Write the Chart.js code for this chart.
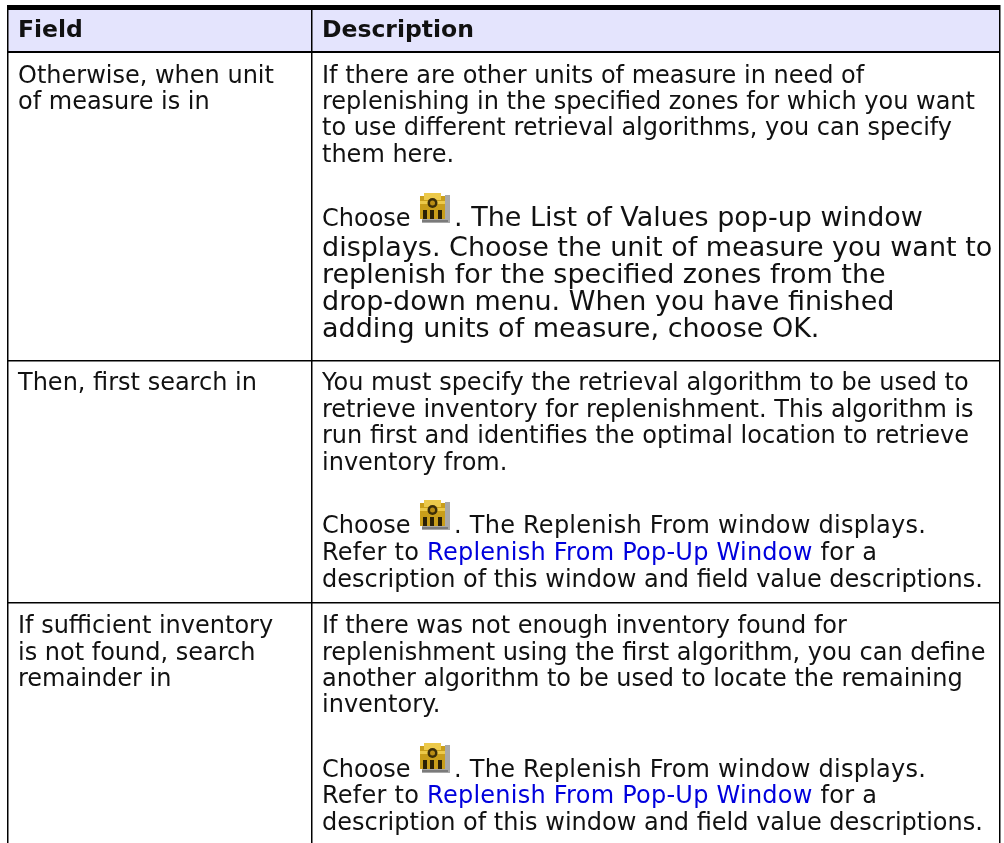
<!DOCTYPE html>
<html>
<head>
<meta charset="utf-8">
<title>Replenishment fields</title>
<script src="https://cdn.jsdelivr.net/npm/chart.js@4/dist/chart.umd.min.js"></script>
<style>
    html, body { margin: 0; padding: 0; background: #fff; }
    canvas { display: block; }
</style>
</head>
<body>
<canvas id="tableChart" width="1004" height="843"></canvas>
<script>
// --- TEXT OF THE TABLE ---
const headers = ['Field', 'Description'];
const fieldLines = [
    ['Otherwise, when unit', 'of measure is in'],
    ['Then, first search in'],
    ['If sufficient inventory', 'is not found, search', 'remainder in']
];
const descLines = [
    ['If there are other units of measure in need of', 'replenishing in the specified zones for which you want', 'to use different retrieval algorithms, you can specify', 'them here.'],
    ['You must specify the retrieval algorithm to be used to', 'retrieve inventory for replenishment. This algorithm is', 'run first and identifies the optimal location to retrieve', 'inventory from.'],
    ['If there was not enough inventory found for', 'replenishment using the first algorithm, you can define', 'another algorithm to be used to locate the remaining', 'inventory.']
];
const chooseWord = 'Choose';
const chooseRest = ['. The List of Values pop-up window', '. The Replenish From window displays.', '. The Replenish From window displays.'];
const bigLines = ['displays. Choose the unit of measure you want to', 'replenish for the specified zones from the', 'drop-down menu. When you have finished', 'adding units of measure, choose OK.'];
const referBefore = 'Refer to ';
const referLink = 'Replenish From Pop-Up Window';
const referAfter = ' for a';
const referLast = 'description of this window and field value descriptions.';

// --- SCALE VALUES (one unit = one pixel of the reference) ---
const columnEdges = [8, 312, 1000];
const rowEdges = [7.5, 52, 361, 603];
const headerBaseline = 37;
const fieldBaselines = [[83, 109], [390], [633, 660, 686]];
const descBaselines = [[83, 109, 135, 162], [390, 417, 443, 470], [633, 660, 686, 712]];
const chooseBaselines = [226, 533, 777];
const bigBaselines = [256, 283, 310, 337];
const referBaselines = [[560, 587], [803, 830]];
const iconCenters = [[435, 208], [435, 515], [435, 758]];

const fontName = '"DejaVu Sans", Verdana, sans-serif';
const textColor = '#111111';
const linkColor = '#0000dd';

// small gold icon used as the point style
function makeIcon() {
    const icon = document.createElement('canvas');
    icon.width = 30;
    icon.height = 30;
    const c = icon.getContext('2d');
    c.fillStyle = '#a8a8a8';
    c.fillRect(2, 25, 28, 5);
    c.fillRect(25, 2, 5, 28);
    c.fillStyle = '#7a7a7a';
    c.fillRect(2, 27, 26, 2);
    c.fillStyle = '#c99e1a';
    c.fillRect(0, 3, 25, 23);
    c.fillStyle = '#ecc94a';
    c.fillRect(4, 0, 17, 7);
    c.fillRect(0, 8, 25, 3);
    c.fillStyle = '#3a2c08';
    c.beginPath();
    c.arc(12.5, 10, 5, 0, Math.PI * 2);
    c.fill();
    c.fillStyle = '#b98c14';
    c.beginPath();
    c.arc(12.5, 10, 2.5, 0, Math.PI * 2);
    c.fill();
    c.fillStyle = '#2a2005';
    c.fillRect(3, 17, 4, 9);
    c.fillRect(10, 17, 4, 9);
    c.fillRect(18, 17, 4, 9);
    return icon;
}

function drawLines(ctx, scales, x, baselines, lines) {
    lines.forEach(function(line, i) {
        ctx.fillText(line, scales.x.getPixelForValue(x), scales.y.getPixelForValue(baselines[i]));
    });
}

// writes the cell text through the chart's own scales
const tableText = {
    id: 'tableText',
    afterDraw: function(chart) {
        const ctx = chart.ctx;
        const scales = chart.scales;
        const fieldX = columnEdges[0] + 10;
        const descX = columnEdges[1] + 10;
        const iconEndX = 454;
        const normalFont = '24px ' + fontName;
        const bigFont = '27px ' + fontName;

        ctx.save();
        ctx.textBaseline = 'alphabetic';
        ctx.textAlign = 'left';
        ctx.fillStyle = textColor;

        ctx.font = 'bold 23.5px ' + fontName;
        drawLines(ctx, scales, fieldX, [headerBaseline], [headers[0]]);
        drawLines(ctx, scales, descX, [headerBaseline], [headers[1]]);

        ctx.font = normalFont;
        for (let i = 0; i < fieldLines.length; i++) {
            drawLines(ctx, scales, fieldX, fieldBaselines[i], fieldLines[i]);
            drawLines(ctx, scales, descX, descBaselines[i], descLines[i]);
            drawLines(ctx, scales, descX, [chooseBaselines[i]], [chooseWord]);
        }

        // first row has the larger paragraph
        ctx.font = bigFont;
        drawLines(ctx, scales, iconEndX, [chooseBaselines[0]], [chooseRest[0]]);
        drawLines(ctx, scales, descX, bigBaselines, bigLines);

        ctx.font = normalFont;
        for (let i = 1; i < chooseRest.length; i++) {
            // these lines run a little wider in the reference
            ctx.letterSpacing = '0.25px';
            drawLines(ctx, scales, iconEndX, [chooseBaselines[i]], [chooseRest[i]]);
            const y = referBaselines[i - 1];
            const beforeWidth = ctx.measureText(referBefore).width;
            const linkWidth = ctx.measureText(referLink).width;
            drawLines(ctx, scales, descX, [y[0]], [referBefore]);
            ctx.fillStyle = linkColor;
            drawLines(ctx, scales, descX + beforeWidth, [y[0]], [referLink]);
            ctx.fillStyle = textColor;
            drawLines(ctx, scales, descX + beforeWidth + linkWidth, [y[0]], [referAfter]);
            ctx.letterSpacing = '0px';
            drawLines(ctx, scales, descX, [y[1]], [referLast]);
        }
        ctx.restore();
    }
};

const locationOfChart = document.getElementById('tableChart');
new Chart(locationOfChart, {
    type: 'scatter',
    data: {
        datasets: [{
            // header shading, filled up to the top of the table
            type: 'line',
            data: [{ x: columnEdges[0], y: rowEdges[1] }, { x: columnEdges[2], y: rowEdges[1] }],
            borderWidth: 0,
            pointRadius: 0,
            backgroundColor: '#e4e4fd',
            fill: 'end'
        }, {
            data: iconCenters.map(c => ({ x: c[0], y: c[1] })),
            pointStyle: makeIcon(),
            pointRadius: 15
        }]
    },
    plugins: [tableText],
    options: {
        responsive: false,
        animation: false,
        layout: { autoPadding: false, padding: { left: columnEdges[0], right: 1004 - columnEdges[2], top: 5, bottom: 0 } },
        plugins: { legend: { display: false }, tooltip: { enabled: false } },
        scales: {
            x: {
                type: 'linear',
                min: columnEdges[0],
                max: columnEdges[2],
                afterBuildTicks: function(axis) {
                    axis.ticks = columnEdges.map(v => ({ value: v }));
                },
                ticks: { display: false },
                border: { display: false },
                grid: { color: '#000', lineWidth: 1.5, drawTicks: false, z: 1 }
            },
            y: {
                type: 'linear',
                reverse: true,
                min: 5,
                max: 843,
                afterBuildTicks: function(axis) {
                    axis.ticks = rowEdges.map(v => ({ value: v }));
                },
                ticks: { display: false },
                border: { display: false },
                grid: {
                    color: '#000',
                    drawTicks: false,
                    z: 1,
                    lineWidth: function(context) {
                        if (context.tick.value === rowEdges[0]) return 5;
                        if (context.tick.value === rowEdges[1]) return 2;
                        return 1.5;
                    }
                }
            }
        }
    }
});
</script>
</body>
</html>
